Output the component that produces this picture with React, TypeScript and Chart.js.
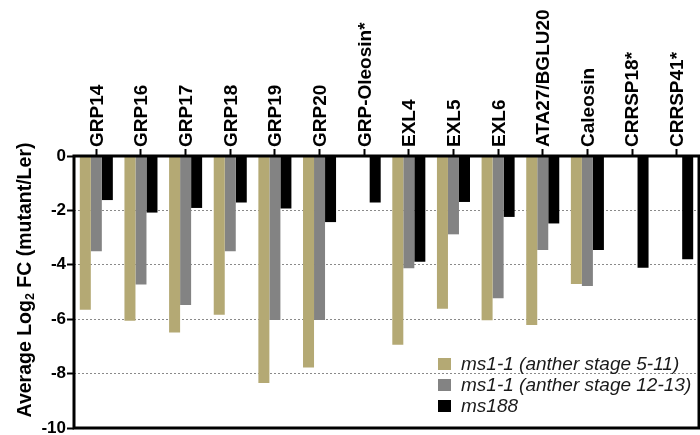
import React, { useEffect, useRef } from "react";
import { Chart, registerables } from "chart.js";
Chart.register(...registerables);

const categories = [
  "GRP14", "GRP16", "GRP17", "GRP18", "GRP19", "GRP20", "GRP-Oleosin*",
  "EXL4", "EXL5", "EXL6", "ATA27/BGLU20", "Caleosin", "CRRSP18*", "CRRSP41*",
];
const ms11Early = [-5.65, -6.06, -6.49, -5.84, -8.35, -7.78, null, -6.94, -5.62, -6.04, -6.21, -4.71, null, null];
const ms11Late = [-3.5, -4.72, -5.48, -3.5, -6.03, -6.03, null, -4.13, -2.88, -5.23, -3.46, -4.78, null, null];
const ms188 = [-1.62, -2.08, -1.91, -1.71, -1.93, -2.43, -1.71, -3.89, -1.69, -2.24, -2.48, -3.46, -4.11, -3.8];
const seriesLabels = ["ms1-1 (anther stage 5-11)", "ms1-1 (anther stage 12-13)", "ms188"];
const seriesColors = ["#b4a974", "#838383", "#000000"];
const yMin = -10;
const yMax = 0;
const yStep = 2;

const FONT = '"Liberation Sans", Arial, Helvetica, sans-serif';

const framePlugin = {
  id: "frame",
  afterDatasetsDraw(chart: any) {
    const { ctx, chartArea } = chart;
    ctx.save();
    ctx.strokeStyle = "#000";
    ctx.lineWidth = 3;
    ctx.strokeRect(chartArea.left, chartArea.top, chartArea.right - chartArea.left, chartArea.bottom - chartArea.top);
    ctx.restore();
  },
};

const yTitlePlugin = {
  id: "ytitle",
  afterDraw(chart: any) {
    const ctx = chart.ctx;
    const ca = chart.chartArea;
    ctx.save();
    ctx.translate(26, (ca.top + ca.bottom) / 2 - 12);
    ctx.rotate(-Math.PI / 2);
    ctx.fillStyle = "#000";
    ctx.textBaseline = "middle";
    ctx.textAlign = "left";
    const big = `bold 19.5px ${FONT}`;
    const small = `bold 12.5px ${FONT}`;
    const parts: [string, string, number][] = [
      ["Average Log", big, 0],
      ["2", small, 5],
      [" FC (mutant/Ler)", big, 0],
    ];
    let total = 0;
    for (const [t, f] of parts) {
      ctx.font = f;
      total += ctx.measureText(t).width;
    }
    let x = -total / 2;
    for (const [t, f, dy] of parts) {
      ctx.font = f;
      ctx.fillText(t, x, dy);
      x += ctx.measureText(t).width;
    }
    ctx.restore();
  },
};

const legendPlugin = {
  id: "customLegend",
  afterDraw(chart: any) {
    const ctx = chart.ctx;
    const ca = chart.chartArea;
    ctx.save();
    ctx.font = `italic 19px ${FONT}`;
    ctx.textBaseline = "middle";
    ctx.textAlign = "left";
    chart.data.datasets.forEach((ds: any, i: number) => {
      const y = ca.bottom - 64 + i * 21;
      const x = ca.right - 261;
      ctx.fillStyle = ds.backgroundColor;
      ctx.fillRect(x, y - 6, 13, 12);
      ctx.fillStyle = "#1a1a1a";
      ctx.fillText(ds.label, x + 23, y + 1);
    });
    ctx.restore();
  },
};

export default function App() {
  const ref = useRef<HTMLCanvasElement | null>(null);
  useEffect(() => {
    if (!ref.current) return;
    const chart = new Chart(ref.current, {
      type: "bar",
      data: {
        labels: categories,
        datasets: [
          { label: seriesLabels[0], data: ms11Early, backgroundColor: seriesColors[0] },
          { label: seriesLabels[1], data: ms11Late, backgroundColor: seriesColors[1] },
          { label: seriesLabels[2], data: ms188, backgroundColor: seriesColors[2] },
        ],
      },
      options: {
        animation: false,
        responsive: false,
        devicePixelRatio: 1,
        layout: { padding: { left: 0, right: 1, top: 0, bottom: 7 } },
        datasets: { bar: { categoryPercentage: 0.74, barPercentage: 1.0, borderWidth: 0 } },
        plugins: { legend: { display: false }, tooltip: { enabled: false }, title: { display: false } },
        scales: {
          x: {
            position: "top",
            grid: {
              display: true,
              offset: false,
              drawOnChartArea: false,
              drawTicks: true,
              tickLength: 7,
              tickColor: "#000",
              tickWidth: 2,
            },
            border: { display: false },
            ticks: {
              autoSkip: false,
              minRotation: 90,
              maxRotation: 90,
              padding: 2,
              labelOffset: 24,
              color: "#000",
              font: { family: FONT, size: 19, weight: "bold" },
            },
            afterFit(scale: any) {
              scale.height = 156;
              scale.paddingLeft = 0;
              scale.paddingRight = 0;
            },
          },
          y: {
            min: yMin,
            max: yMax,
            grid: {
              color: (c: any) => (c.tick && (c.tick.value === yMin || c.tick.value === yMax) ? "rgba(0,0,0,0)" : "#8a8a8a"),
              lineWidth: 1,
              drawTicks: true,
              tickLength: 7,
              tickColor: "#000",
              tickWidth: 2,
            },
            border: { display: false, dash: [2, 2] },
            ticks: {
              stepSize: yStep,
              padding: 1,
              color: "#000",
              font: { family: FONT, size: 17, weight: "bold" },
            },
            afterFit(scale: any) {
              scale.width = 74;
              scale.paddingTop = 0;
              scale.paddingBottom = 0;
            },
          },
        },
      },
      plugins: [framePlugin, yTitlePlugin, legendPlugin],
    } as any);
    return () => chart.destroy();
  }, []);
  return (
    <div style={{ position: "absolute", left: 0, top: 0, width: 700, height: 435, background: "#fff" }}>
      <canvas ref={ref} width={700} height={435} style={{ display: "block" }} />
    </div>
  );
}
